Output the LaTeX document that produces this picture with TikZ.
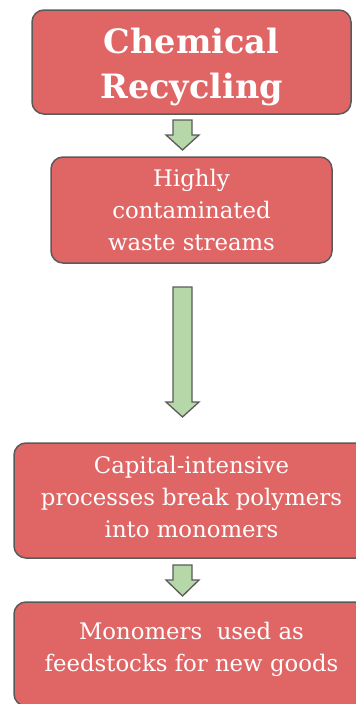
\documentclass[tikz,border=0pt]{standalone}
\usepackage{fontspec}
\setmainfont{DejaVu Serif}
\usepackage{tikz}

\definecolor{boxred}{RGB}{224,102,102}
\definecolor{edgegray}{RGB}{90,90,90}
\definecolor{arrowgreen}{RGB}{182,215,168}

\tikzset{
  stepbox/.style={draw=edgegray, line width=1.5pt, fill=boxred, rounded corners=12pt,
    text=white, align=center, inner sep=0pt,
    font=\fontsize{22.8}{32}\selectfont},
  titlebox/.style={stepbox, font=\fontsize{33.5}{45}\selectfont\bfseries},
  greenarrow/.style={draw=edgegray, line width=1.3pt, fill=arrowgreen, line join=miter}
}

\begin{document}
\begin{tikzpicture}[x=1pt, y=-1pt]
		\useasboundingbox (0,0) rectangle (356,704);
		\node[titlebox, minimum width=319pt, minimum height=104pt] (title) at (191.5,62) {\rule{0pt}{36pt}Chemical\\Recycling};
		\node[stepbox, minimum width=281pt, minimum height=106pt] (waste) at (191.5,210) {Highly\\contaminated\\waste streams};
		\node[stepbox, minimum width=355pt, minimum height=115pt] (process) at (191.5,500.5) {Capital-intensive\\processes break polymers\\into monomers\rule[-8pt]{0pt}{8pt}};
		\node[stepbox, minimum width=355pt, minimum height=104pt] (feed) at (191.5,654) {Monomers\ \ used as\\feedstocks for new goods\rule[-14pt]{0pt}{14pt}};
		% block arrows between the boxes
		\draw[greenarrow] (173,120) -- (192,120) -- (192,135) -- (199,135) -- (182.5,150)
		-- (166,135) -- (173,135) -- cycle;
		\draw[greenarrow] (173,287) -- (192,287) -- (192,402) -- (199,402) -- (182.5,417)
		-- (166,402) -- (173,402) -- cycle;
		\draw[greenarrow] (173,565) -- (192,565) -- (192,580) -- (199,580) -- (182.5,596)
		-- (166,580) -- (173,580) -- cycle;
		\end{tikzpicture}
\end{document}
